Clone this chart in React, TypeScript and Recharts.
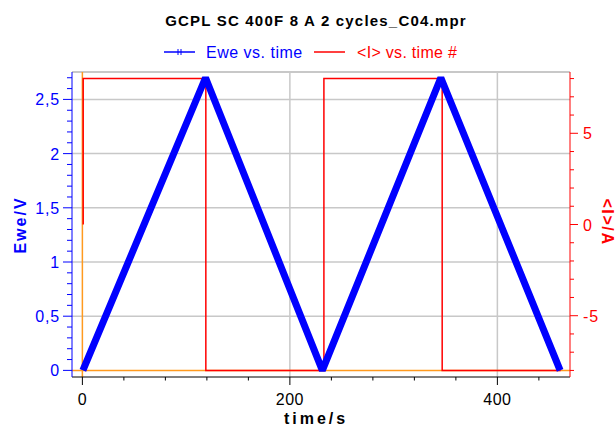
import React from 'react'
import {
  LineChart, Line, XAxis, YAxis, ReferenceLine,
} from 'recharts'

// Ewe vs. time (vertices of the triangle wave)
const eweTime = [0.5, 118.7, 231.3, 345.5, 460.5]
const eweValues = [0, 2.7, 0, 2.7, 0]

// <I> vs. time (square wave steps)
const currentTime = [0.8, 0.8, 119, 119, 232.8, 232.8, 346.8, 346.8, 461]
const currentValues = [0, 8, 8, -8, -8, 8, 8, -8, -8]

const timeTicks = [0, 40, 80, 120, 160, 200, 240, 280, 320, 360, 400, 440]
const eweTicks = [
  0, 0.1, 0.2, 0.3, 0.4, 0.5, 0.6, 0.7, 0.8, 0.9, 1, 1.1, 1.2, 1.3,
  1.4, 1.5, 1.6, 1.7, 1.8, 1.9, 2, 2.1, 2.2, 2.3, 2.4, 2.5, 2.6, 2.7,
]
const currentTicks = [-8, -7, -6, -5, -4, -3, -2, -1, 0, 1, 2, 3, 4, 5, 6, 7, 8]
const eweGrid = [0.5, 1, 1.5, 2, 2.5]
const timeGrid = [200, 400]

const eweDomain: [number, number] = [-0.061, 2.753]
const currentDomain: [number, number] = [-8.36, 8.36]
const timeDomain: [number, number] = [-10, 470]

const eweData = eweTime.map((t, i) => ({ t, v: eweValues[i] }))
const currentData = currentTime.map((t, i) => ({ t, v: currentValues[i] }))

const BLUE = '#0000ff'
const RED = '#ff0000'
const ORANGE = '#ff9a1f'
const GRID = '#c8c8c8'
const FONT = '"Liberation Sans", Arial, sans-serif'

const near = (a: number, b: number) => Math.abs(a - b) < 1e-6

const LeftTick = ({ x, y, payload }: any) => {
  const v = payload.value
  const major = near(v * 2, Math.round(v * 2))
  return (
    <g>
      <line x1={x} x2={x - (major ? 9 : 5)} y1={y} y2={y} stroke={BLUE} strokeWidth={1} />
      {major && (
        <text x={x - 12} y={y + 6} textAnchor="end" fill={BLUE} fontSize={16} letterSpacing={0.8} fontFamily={FONT}>
          {String(v).replace('.', ',')}
        </text>
      )}
    </g>
  )
}

const RightTick = ({ x, y, payload }: any) => {
  const v = payload.value
  const major = v % 5 === 0
  return (
    <g>
      <line x1={x} x2={x + (major ? 8 : 4)} y1={y} y2={y} stroke={RED} strokeWidth={1} />
      {major && (
        <text x={x + 13} y={y + 6} textAnchor="start" fill={RED} fontSize={16} letterSpacing={0.8} fontFamily={FONT}>
          {v}
        </text>
      )}
    </g>
  )
}

const TimeTick = ({ x, y, payload }: any) => {
  const v = payload.value
  const major = v % 200 === 0
  return (
    <g>
      <line x1={x} x2={x} y1={y} y2={y + (major ? 8 : 3.5)} stroke="#000" strokeWidth={1} />
      {major && (
        <text x={x} y={y + 28} textAnchor="middle" fill="#000" fontSize={16} letterSpacing={0.5} fontFamily={FONT}>
          {v}
        </text>
      )}
    </g>
  )
}

export default function App() {
  return (
    <div style={{ position: 'absolute', left: 0, top: 0, width: 616, height: 427, background: '#fff', fontFamily: FONT }}>
      <svg width={616} height={70} style={{ position: 'absolute', left: 0, top: 0 }}>
        <text x={316} y={26} textAnchor="middle" fontSize={15} fontWeight="bold" letterSpacing={1.2} fill="#000" fontFamily={FONT}>
          GCPL SC 400F 8 A 2 cycles_C04.mpr
        </text>
        <line x1={164} x2={195} y1={52} y2={52} stroke={BLUE} strokeWidth={1.5} />
        <line x1={178} x2={178} y1={49} y2={55} stroke={BLUE} strokeWidth={1} />
        <line x1={181} x2={181} y1={49} y2={55} stroke={BLUE} strokeWidth={1} />
        <text x={206} y={58} fontSize={16} letterSpacing={0.5} fill={BLUE} fontFamily={FONT}>Ewe vs. time</text>
        <line x1={314} x2={345} y1={52} y2={52} stroke={RED} strokeWidth={1.5} />
        <text x={357} y={58} fontSize={16} letterSpacing={0.3} fill={RED} fontFamily={FONT}>{'<I> vs. time #'}</text>
      </svg>
      <div style={{ position: 'absolute', left: 0, top: 0 }}>
        <LineChart width={616} height={427} margin={{ top: 72, right: 0, bottom: 0, left: 0 }}>
          <XAxis
            dataKey="t"
            type="number"
            domain={timeDomain}
            ticks={timeTicks}
            interval={0}
            height={50}
            tickSize={0}
            tickMargin={0}
            tickLine={false}
            axisLine={{ stroke: '#000', strokeWidth: 1 }}
            tick={(p: any) => <TimeTick {...p} />}
            allowDataOverflow
          />
          <YAxis
            yAxisId="ewe"
            orientation="left"
            type="number"
            domain={eweDomain}
            ticks={eweTicks}
            interval={0}
            width={72}
            tickSize={0}
            tickMargin={0}
            tickLine={false}
            axisLine={{ stroke: BLUE, strokeWidth: 1 }}
            tick={(p: any) => <LeftTick {...p} />}
            allowDataOverflow
          />
          <YAxis
            yAxisId="cur"
            orientation="right"
            type="number"
            domain={currentDomain}
            ticks={currentTicks}
            interval={0}
            width={46}
            tickSize={0}
            tickMargin={0}
            tickLine={false}
            axisLine={{ stroke: RED, strokeWidth: 1 }}
            tick={(p: any) => <RightTick {...p} />}
            allowDataOverflow
          />
          {eweGrid.map((g) => (
            <ReferenceLine key={'h' + g} yAxisId="ewe" y={g} stroke={GRID} strokeWidth={1.5} />
          ))}
          <ReferenceLine yAxisId="ewe" y={eweDomain[1]} stroke={GRID} strokeWidth={2} />
          {timeGrid.map((g) => (
            <ReferenceLine key={'v' + g} yAxisId="ewe" x={g} stroke={GRID} strokeWidth={1.5} />
          ))}
          <ReferenceLine yAxisId="ewe" y={0} stroke={ORANGE} strokeWidth={1.5} />
          <ReferenceLine yAxisId="ewe" x={0} stroke={ORANGE} strokeWidth={1.5} />
          <Line
            yAxisId="cur"
            data={currentData}
            dataKey="v"
            type="linear"
            stroke={RED}
            strokeWidth={1.5}
            dot={false}
            isAnimationActive={false}
          />
          <Line
            yAxisId="ewe"
            data={eweData}
            dataKey="v"
            type="linear"
            stroke={BLUE}
            strokeWidth={7}
            strokeLinejoin="bevel"
            dot={false}
            isAnimationActive={false}
          />
        </LineChart>
      </div>
      <svg width={616} height={427} style={{ position: 'absolute', left: 0, top: 0, pointerEvents: 'none' }}>
        <text x={20} y={225} transform="rotate(-90 20 225)" textAnchor="middle" dominantBaseline="central"
          fontSize={16} fontWeight="bold" letterSpacing={2} fill={BLUE} fontFamily={FONT}>
          Ewe/V
        </text>
        <text x={607} y={222} transform="rotate(90 607 222)" textAnchor="middle" dominantBaseline="central"
          fontSize={16} fontWeight="bold" letterSpacing={1.6} fill={RED} fontFamily={FONT}>
          {'<I>/A'}
        </text>
        <text x={316} y={424} textAnchor="middle" fontSize={16} fontWeight="bold" letterSpacing={3} fill="#000" fontFamily={FONT}>
          time/s
        </text>
      </svg>
    </div>
  )
}
